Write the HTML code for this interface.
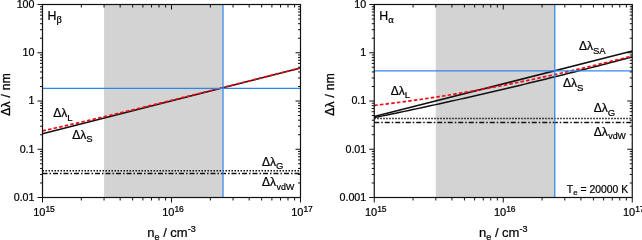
<!DOCTYPE html>
<html><head><meta charset="utf-8"><title>plot</title><style>html,body{margin:0;padding:0;background:#fff}svg{display:block}text{stroke:#000;stroke-width:.22px}</style></head><body>
<svg width="642" height="240" viewBox="0 0 642 240" font-family='"Liberation Sans", Arial, sans-serif' fill="#000">
<rect width="642" height="240" fill="#fff"/>
<rect x="104.05" y="4.50" width="118.79" height="193.00" fill="#d3d3d3"/>
<line x1="42.50" y1="133.85" x2="300.50" y2="68.10" stroke="#111" stroke-width="1.5"/>
<polyline points="42.50,130.91 46.80,129.95 51.10,128.99 55.40,128.02 59.70,127.05 64.00,126.07 68.30,125.09 72.60,124.10 76.90,123.10 81.20,122.10 85.50,121.10 89.80,120.09 94.10,119.08 98.40,118.06 102.70,117.04 107.00,116.02 111.30,114.99 115.60,113.96 119.90,112.93 124.20,111.89 128.50,110.85 132.80,109.81 137.10,108.77 141.40,107.72 145.70,106.67 150.00,105.62 154.30,104.56 158.60,103.51 162.90,102.45 167.20,101.39 171.50,100.33 175.80,99.26 180.10,98.20 184.40,97.13 188.70,96.06 193.00,95.00 197.30,93.92 201.60,92.85 205.90,91.78 210.20,90.71 214.50,89.63 218.80,88.55 223.10,87.48 227.40,86.40 231.70,85.32 236.00,84.24 240.30,83.16 244.60,82.08 248.90,80.99 253.20,79.91 257.50,78.83 261.80,77.74 266.10,76.66 270.40,75.57 274.70,74.49 279.00,73.40 283.30,72.32 287.60,71.23 291.90,70.14 296.20,69.05 300.50,67.96" fill="none" stroke="#f00a14" stroke-width="1.7" stroke-dasharray="3.5 2.2"/>
<line x1="42.50" y1="170.70" x2="300.50" y2="170.70" stroke="#111" stroke-width="1.4" stroke-dasharray="1.5 1.5"/>
<line x1="42.50" y1="173.50" x2="300.50" y2="173.50" stroke="#111" stroke-width="1.4" stroke-dasharray="5 2 1.5 2"/>
<line x1="42.50" y1="88.25" x2="300.50" y2="88.25" stroke="#2f86ea" stroke-width="1.25"/>
<line x1="223.00" y1="4.50" x2="223.00" y2="197.50" stroke="#2f86ea" stroke-width="1.25"/>
<rect x="42.50" y="4.50" width="258.00" height="193.00" fill="none" stroke="#111" stroke-width="1.2"/>
<path d="M42.50 4.50v5 M42.50 197.50v5 M81.33 4.50v3 M81.33 197.50v3 M104.05 4.50v3 M104.05 197.50v3 M120.17 4.50v3 M120.17 197.50v3 M132.67 4.50v3 M132.67 197.50v3 M142.88 4.50v3 M142.88 197.50v3 M151.52 4.50v3 M151.52 197.50v3 M159.00 4.50v3 M159.00 197.50v3 M165.60 4.50v3 M165.60 197.50v3 M171.50 4.50v5 M171.50 197.50v5 M210.33 4.50v3 M210.33 197.50v3 M233.05 4.50v3 M233.05 197.50v3 M249.17 4.50v3 M249.17 197.50v3 M261.67 4.50v3 M261.67 197.50v3 M271.88 4.50v3 M271.88 197.50v3 M280.52 4.50v3 M280.52 197.50v3 M288.00 4.50v3 M288.00 197.50v3 M294.60 4.50v3 M294.60 197.50v3 M300.50 4.50v5 M300.50 197.50v5 M42.50 4.50h-5 M300.50 4.50h-5 M42.50 52.75h-5 M300.50 52.75h-5 M42.50 38.23h-2.5 M300.50 38.23h-2.5 M42.50 29.73h-2.5 M300.50 29.73h-2.5 M42.50 23.70h-2.5 M300.50 23.70h-2.5 M42.50 19.02h-2.5 M300.50 19.02h-2.5 M42.50 15.20h-2.5 M300.50 15.20h-2.5 M42.50 11.97h-2.5 M300.50 11.97h-2.5 M42.50 9.18h-2.5 M300.50 9.18h-2.5 M42.50 6.71h-2.5 M300.50 6.71h-2.5 M42.50 101.00h-5 M300.50 101.00h-5 M42.50 86.48h-2.5 M300.50 86.48h-2.5 M42.50 77.98h-2.5 M300.50 77.98h-2.5 M42.50 71.95h-2.5 M300.50 71.95h-2.5 M42.50 67.27h-2.5 M300.50 67.27h-2.5 M42.50 63.45h-2.5 M300.50 63.45h-2.5 M42.50 60.22h-2.5 M300.50 60.22h-2.5 M42.50 57.43h-2.5 M300.50 57.43h-2.5 M42.50 54.96h-2.5 M300.50 54.96h-2.5 M42.50 149.25h-5 M300.50 149.25h-5 M42.50 134.73h-2.5 M300.50 134.73h-2.5 M42.50 126.23h-2.5 M300.50 126.23h-2.5 M42.50 120.20h-2.5 M300.50 120.20h-2.5 M42.50 115.52h-2.5 M300.50 115.52h-2.5 M42.50 111.70h-2.5 M300.50 111.70h-2.5 M42.50 108.47h-2.5 M300.50 108.47h-2.5 M42.50 105.68h-2.5 M300.50 105.68h-2.5 M42.50 103.21h-2.5 M300.50 103.21h-2.5 M42.50 197.50h-5 M300.50 197.50h-5 M42.50 182.98h-2.5 M300.50 182.98h-2.5 M42.50 174.48h-2.5 M300.50 174.48h-2.5 M42.50 168.45h-2.5 M300.50 168.45h-2.5 M42.50 163.77h-2.5 M300.50 163.77h-2.5 M42.50 159.95h-2.5 M300.50 159.95h-2.5 M42.50 156.72h-2.5 M300.50 156.72h-2.5 M42.50 153.93h-2.5 M300.50 153.93h-2.5 M42.50 151.46h-2.5 M300.50 151.46h-2.5" stroke="#111" stroke-width="1" fill="none"/>
<text x="34.50" y="7.90" font-size="10.7" text-anchor="end">100</text>
<text x="34.50" y="56.15" font-size="10.7" text-anchor="end">10</text>
<text x="34.50" y="104.40" font-size="10.7" text-anchor="end">1</text>
<text x="34.50" y="152.65" font-size="10.7" text-anchor="end">0.1</text>
<text x="34.50" y="200.90" font-size="10.7" text-anchor="end">0.01</text>
<text x="44.00" y="215.70" font-size="11" text-anchor="middle">10<tspan font-size="8.5" dy="-3.8">15</tspan></text>
<text x="173.00" y="215.70" font-size="11" text-anchor="middle">10<tspan font-size="8.5" dy="-3.8">16</tspan></text>
<text x="302.00" y="215.70" font-size="11" text-anchor="middle">10<tspan font-size="8.5" dy="-3.8">17</tspan></text>
<text x="171.50" y="236.50" font-size="13" text-anchor="middle">n<tspan font-size="9" dy="3">e</tspan><tspan dy="-3"> / cm</tspan><tspan font-size="9" dy="-5">-3</tspan></text>
<text transform="translate(9.70,94.40) rotate(-90)" font-size="12" letter-spacing="0.3" text-anchor="middle" style="stroke-width:.32px">Δλ / nm</text>
<text x="47.50" y="20.00" font-size="12.3">H<tspan font-size="10.5" dy="3" font-family="'Liberation Serif', serif">β</tspan></text>
<text x="53.30" y="117.00" font-size="12">Δλ<tspan font-size="9.5" dy="3.5" dx="0">L</tspan></text>
<text x="72.20" y="138.50" font-size="12">Δλ<tspan font-size="9.5" dy="3.5" dx="0">S</tspan></text>
<text x="262.00" y="165.70" font-size="12">Δλ<tspan font-size="9.5" dy="3.5" dx="0">G</tspan></text>
<text x="262.00" y="186.00" font-size="12">Δλ<tspan font-size="8.8" dy="3.5" dx="0.6">vdW</tspan></text>
<rect x="435.80" y="4.50" width="118.79" height="193.00" fill="#d3d3d3"/>
<line x1="374.25" y1="116.60" x2="632.25" y2="51.10" stroke="#111" stroke-width="1.5"/>
<polyline points="374.25,117.64 378.55,116.76 382.85,115.87 387.15,114.98 391.45,114.08 395.75,113.18 400.05,112.27 404.35,111.36 408.65,110.45 412.95,109.53 417.25,108.61 421.55,107.68 425.85,106.75 430.15,105.81 434.45,104.87 438.75,103.93 443.05,102.98 447.35,102.03 451.65,101.07 455.95,100.11 460.25,99.14 464.55,98.17 468.85,97.20 473.15,96.22 477.45,95.23 481.75,94.25 486.05,93.25 490.35,92.26 494.65,91.26 498.95,90.25 503.25,89.24 507.55,88.23 511.85,87.21 516.15,86.19 520.45,85.16 524.75,84.13 529.05,83.09 533.35,82.06 537.65,81.01 541.95,79.96 546.25,78.91 550.55,77.85 554.85,76.79 559.15,75.72 563.45,74.65 567.75,73.58 572.05,72.50 576.35,71.42 580.65,70.33 584.95,69.24 589.25,68.14 593.55,67.04 597.85,65.94 602.15,64.83 606.45,63.71 610.75,62.60 615.05,61.47 619.35,60.35 623.65,59.22 627.95,58.08 632.25,56.94" fill="none" stroke="#111" stroke-width="1.5"/>
<polyline points="374.25,105.40 378.55,104.91 382.85,104.40 387.15,103.88 391.45,103.34 395.75,102.80 400.05,102.24 404.35,101.68 408.65,101.10 412.95,100.50 417.25,99.90 421.55,99.28 425.85,98.65 430.15,98.01 434.45,97.36 438.75,96.70 443.05,96.02 447.35,95.33 451.65,94.63 455.95,93.92 460.25,93.20 464.55,92.46 468.85,91.72 473.15,90.96 477.45,90.19 481.75,89.41 486.05,88.62 490.35,87.82 494.65,87.00 498.95,86.18 503.25,85.34 507.55,84.50 511.85,83.64 516.15,82.78 520.45,81.90 524.75,81.02 529.05,80.12 533.35,79.22 537.65,78.30 541.95,77.38 546.25,76.44 550.55,75.50 554.85,74.55 559.15,73.59 563.45,72.62 567.75,71.64 572.05,70.66 576.35,69.66 580.65,68.66 584.95,67.65 589.25,66.63 593.55,65.61 597.85,64.57 602.15,63.53 606.45,62.48 610.75,61.43 615.05,60.36 619.35,59.29 623.65,58.22 627.95,57.13 632.25,56.04" fill="none" stroke="#f00a14" stroke-width="1.7" stroke-dasharray="3.5 2.2"/>
<line x1="374.25" y1="118.50" x2="632.25" y2="118.50" stroke="#111" stroke-width="1.4" stroke-dasharray="1.5 1.5"/>
<line x1="374.25" y1="122.50" x2="632.25" y2="122.50" stroke="#111" stroke-width="1.4" stroke-dasharray="5 2 1.5 2"/>
<line x1="374.25" y1="70.75" x2="632.25" y2="70.75" stroke="#2f86ea" stroke-width="1.25"/>
<line x1="554.75" y1="4.50" x2="554.75" y2="197.50" stroke="#2f86ea" stroke-width="1.25"/>
<rect x="374.25" y="4.50" width="258.00" height="193.00" fill="none" stroke="#111" stroke-width="1.2"/>
<path d="M374.25 4.50v5 M374.25 197.50v5 M413.08 4.50v3 M413.08 197.50v3 M435.80 4.50v3 M435.80 197.50v3 M451.92 4.50v3 M451.92 197.50v3 M464.42 4.50v3 M464.42 197.50v3 M474.63 4.50v3 M474.63 197.50v3 M483.27 4.50v3 M483.27 197.50v3 M490.75 4.50v3 M490.75 197.50v3 M497.35 4.50v3 M497.35 197.50v3 M503.25 4.50v5 M503.25 197.50v5 M542.08 4.50v3 M542.08 197.50v3 M564.80 4.50v3 M564.80 197.50v3 M580.92 4.50v3 M580.92 197.50v3 M593.42 4.50v3 M593.42 197.50v3 M603.63 4.50v3 M603.63 197.50v3 M612.27 4.50v3 M612.27 197.50v3 M619.75 4.50v3 M619.75 197.50v3 M626.35 4.50v3 M626.35 197.50v3 M632.25 4.50v5 M632.25 197.50v5 M374.25 4.50h-5 M632.25 4.50h-5 M374.25 52.75h-5 M632.25 52.75h-5 M374.25 38.23h-2.5 M632.25 38.23h-2.5 M374.25 29.73h-2.5 M632.25 29.73h-2.5 M374.25 23.70h-2.5 M632.25 23.70h-2.5 M374.25 19.02h-2.5 M632.25 19.02h-2.5 M374.25 15.20h-2.5 M632.25 15.20h-2.5 M374.25 11.97h-2.5 M632.25 11.97h-2.5 M374.25 9.18h-2.5 M632.25 9.18h-2.5 M374.25 6.71h-2.5 M632.25 6.71h-2.5 M374.25 101.00h-5 M632.25 101.00h-5 M374.25 86.48h-2.5 M632.25 86.48h-2.5 M374.25 77.98h-2.5 M632.25 77.98h-2.5 M374.25 71.95h-2.5 M632.25 71.95h-2.5 M374.25 67.27h-2.5 M632.25 67.27h-2.5 M374.25 63.45h-2.5 M632.25 63.45h-2.5 M374.25 60.22h-2.5 M632.25 60.22h-2.5 M374.25 57.43h-2.5 M632.25 57.43h-2.5 M374.25 54.96h-2.5 M632.25 54.96h-2.5 M374.25 149.25h-5 M632.25 149.25h-5 M374.25 134.73h-2.5 M632.25 134.73h-2.5 M374.25 126.23h-2.5 M632.25 126.23h-2.5 M374.25 120.20h-2.5 M632.25 120.20h-2.5 M374.25 115.52h-2.5 M632.25 115.52h-2.5 M374.25 111.70h-2.5 M632.25 111.70h-2.5 M374.25 108.47h-2.5 M632.25 108.47h-2.5 M374.25 105.68h-2.5 M632.25 105.68h-2.5 M374.25 103.21h-2.5 M632.25 103.21h-2.5 M374.25 197.50h-5 M632.25 197.50h-5 M374.25 182.98h-2.5 M632.25 182.98h-2.5 M374.25 174.48h-2.5 M632.25 174.48h-2.5 M374.25 168.45h-2.5 M632.25 168.45h-2.5 M374.25 163.77h-2.5 M632.25 163.77h-2.5 M374.25 159.95h-2.5 M632.25 159.95h-2.5 M374.25 156.72h-2.5 M632.25 156.72h-2.5 M374.25 153.93h-2.5 M632.25 153.93h-2.5 M374.25 151.46h-2.5 M632.25 151.46h-2.5" stroke="#111" stroke-width="1" fill="none"/>
<text x="366.25" y="7.90" font-size="10.7" text-anchor="end">10</text>
<text x="366.25" y="56.15" font-size="10.7" text-anchor="end">1</text>
<text x="366.25" y="104.40" font-size="10.7" text-anchor="end">0.1</text>
<text x="366.25" y="152.65" font-size="10.7" text-anchor="end">0.01</text>
<text x="366.25" y="200.90" font-size="10.7" text-anchor="end">0.001</text>
<text x="375.75" y="215.70" font-size="11" text-anchor="middle">10<tspan font-size="8.5" dy="-3.8">15</tspan></text>
<text x="504.75" y="215.70" font-size="11" text-anchor="middle">10<tspan font-size="8.5" dy="-3.8">16</tspan></text>
<text x="633.75" y="215.70" font-size="11" text-anchor="middle">10<tspan font-size="8.5" dy="-3.8">17</tspan></text>
<text x="503.25" y="236.50" font-size="13" text-anchor="middle">n<tspan font-size="9" dy="3">e</tspan><tspan dy="-3"> / cm</tspan><tspan font-size="9" dy="-5">-3</tspan></text>
<text transform="translate(333.50,94.40) rotate(-90)" font-size="12" letter-spacing="0.3" text-anchor="middle" style="stroke-width:.32px">Δλ / nm</text>
<text x="379.25" y="20.00" font-size="12.3">H<tspan font-size="10.5" dy="3" font-family="'Liberation Serif', serif">α</tspan></text>
<text x="390.80" y="94.80" font-size="12">Δλ<tspan font-size="9.5" dy="3.5" dx="0">L</tspan></text>
<text x="563.10" y="87.20" font-size="12">Δλ<tspan font-size="9.5" dy="3.5" dx="0">S</tspan></text>
<text x="578.90" y="50.00" font-size="12">Δλ<tspan font-size="9.5" dy="3.5" dx="0">SA</tspan></text>
<text x="593.70" y="112.40" font-size="12">Δλ<tspan font-size="9.5" dy="3.5" dx="0">G</tspan></text>
<text x="593.70" y="135.80" font-size="12">Δλ<tspan font-size="8.8" dy="3.5" dx="0.6">vdW</tspan></text>
<text x="566.8" y="192.6" font-size="10.4">T<tspan font-size="8" dy="2.5">e</tspan><tspan dy="-2.5"> = 20000 K</tspan></text>
</svg>
</body></html>
